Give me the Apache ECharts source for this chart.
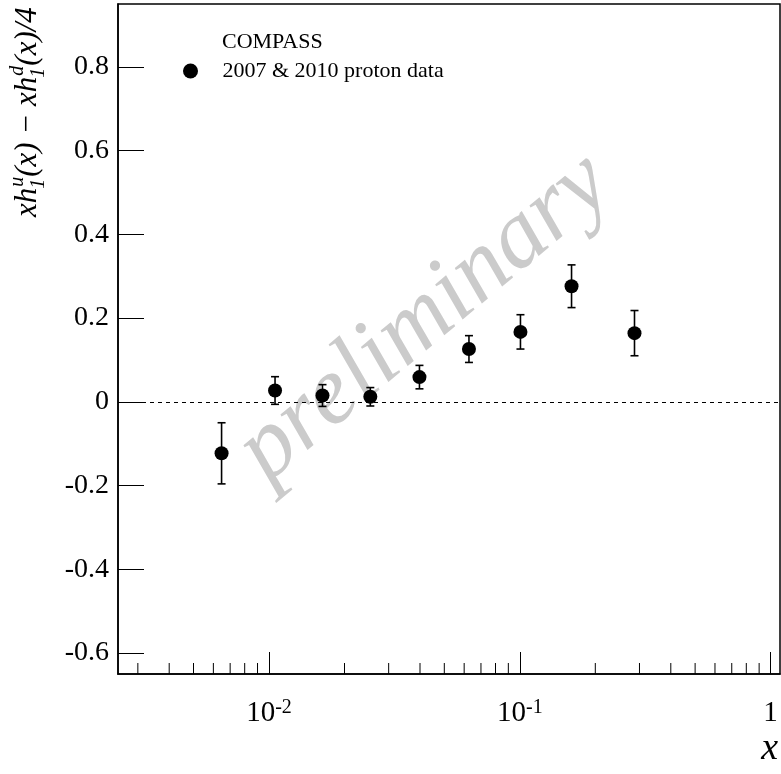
<!DOCTYPE html>
<html><head><meta charset="utf-8">
<script src="https://cdn.jsdelivr.net/npm/echarts@6/dist/echarts.min.js"></script>
<style>html,body{margin:0;padding:0;background:#fff}#c{width:781px;height:774px}</style>
</head><body><div id="c"></div>
<script>
// ---- data ----
const xValues = [0.00647, 0.01057, 0.01634, 0.02535, 0.0398, 0.0627, 0.1006, 0.1608, 0.2866];
const yValues = [-0.123, 0.027, 0.015, 0.012, 0.059, 0.126, 0.167, 0.276, 0.164];
const yErrors = [0.073, 0.033, 0.026, 0.022, 0.028, 0.032, 0.041, 0.051, 0.054];
const yTickValues = [-0.6, -0.4, -0.2, 0, 0.2, 0.4, 0.6, 0.8];
const xMinorTickValues = [0.003, 0.004, 0.005, 0.006, 0.007, 0.008, 0.009,
  0.02, 0.03, 0.04, 0.05, 0.06, 0.07, 0.08, 0.09,
  0.2, 0.3, 0.4, 0.5, 0.6, 0.7, 0.8, 0.9];
const seriesName = '2007 & 2010 proton data';
const experimentLabel = 'COMPASS';
const watermarkText = 'preliminary';
const xTitle = 'x';
const yTitleParts = [{t: 'xh'}, {sup: 'u', sub: '1'}, {t: '(x) \u2212 xh'}, {sup: 'd', sub: '1'}, {t: '(x)/4'}];
const xRange = [0.0025, 1.09];
const yRange = [-0.65, 0.95];

const FONT = '"Liberation Serif", "Times New Roman", serif';
const ctx2d = document.createElement('canvas').getContext('2d');
function textWidth(t, size, italic) {
  ctx2d.font = (italic ? 'italic ' : '') + size + 'px ' + FONT;
  return ctx2d.measureText(t).width;
}

// build rotated y-axis title with stacked sub/superscripts
function buildYTitle() {
  const S = 31, s = 20;
  const children = [];
  let cx = 0;
  const mk = (t, x, base, size) => children.push({
    type: 'text', x: x, y: base - 0.34 * size,
    style: {text: t, fontFamily: FONT, fontStyle: 'italic', fontSize: size, fill: '#000',
            align: 'left', verticalAlign: 'middle'}
  });
  yTitleParts.forEach(p => {
    if (p.t) { mk(p.t, cx, 0, S); cx += textWidth(p.t, S, true); }
    else {
      mk(p.sup, cx + 1, -0.42 * S, s);
      mk(p.sub, cx - 1, 0.24 * S, s);
      cx += Math.max(textWidth(p.sup, s, true), textWidth(p.sub, s, true)) + 1;
    }
  });
  return {type: 'group', x: 38, y: 217, rotation: Math.PI / 2, children: children};
}

const chart = echarts.init(document.getElementById('c'), null, {renderer: 'canvas'});

function isDecade(v) {
  const l = Math.log10(v);
  return Math.abs(l - Math.round(l)) < 1e-6;
}

const option = {
  backgroundColor: '#fff',
  animation: false,
  grid: {left: 118, right: 1, top: 4, bottom: 100, show: true, borderColor: '#000', borderWidth: 1.5},
  legend: {
    data: [seriesName], left: 178, top: 55, icon: 'circle',
    itemWidth: 54, itemHeight: 15,
    itemStyle: {opacity: 1, color: '#000'},
    textStyle: {fontFamily: FONT, fontSize: 22, color: '#000'}
  },
  xAxis: {
    type: 'log', logBase: 10, min: xRange[0], max: xRange[1],
    axisLine: {onZero: false, lineStyle: {color: '#000', width: 1.5}},
    axisTick: {inside: true, length: 22, lineStyle: {color: '#000', width: 1}},
    minorTick: {show: false},
    splitLine: {show: false},
    axisLabel: {
      margin: 24, showMinLabel: false, showMaxLabel: false,
      formatter: function (v) {
        if (!isDecade(v)) return '';
        const e = Math.round(Math.log10(v));
        if (e === 0) return '{b|1}';
        return '{b|10}{s|' + e + '}';
      },
      rich: {
        b: {fontFamily: FONT, fontSize: 29, color: '#000', lineHeight: 30},
        s: {fontFamily: FONT, fontSize: 20, color: '#000', verticalAlign: 'top', lineHeight: 20}
      }
    }
  },
  yAxis: {
    type: 'value', min: yRange[0], max: yRange[1],
    axisLine: {show: true, lineStyle: {color: '#000', width: 1.5}},
    axisTick: {inside: true, length: 26, customValues: yTickValues, lineStyle: {color: '#000', width: 1}},
    splitLine: {show: false},
    axisLabel: {
      customValues: yTickValues, margin: 9,
      fontFamily: FONT, fontSize: 28, color: '#000',
      formatter: v => (Math.abs(v) < 1e-9 ? '0' : v.toFixed(1))
    }
  },
  graphic: [
    {type: 'text', x: 425, y: 318, rotation: 40 * Math.PI / 180, z: 1, silent: true,
     style: {text: watermarkText, fontFamily: FONT, fontStyle: 'italic', fontSize: 97,
             fill: '#cbcbcb', align: 'center', verticalAlign: 'middle'}},
    {type: 'text', x: 222, y: 42, z: 5,
     style: {text: experimentLabel, fontFamily: FONT, fontSize: 22, fill: '#000',
             align: 'left', verticalAlign: 'middle'}},
    {type: 'text', x: 778, y: 768, z: 5,
     style: {text: xTitle, fontFamily: FONT, fontStyle: 'italic', fontSize: 38, fill: '#000',
             align: 'right', verticalAlign: 'bottom'}},
    buildYTitle()
  ],
  series: [
    {
      type: 'custom', name: 'minorTicks', silent: true, clip: false, z: 3,
      data: xMinorTickValues.map(v => [v, yRange[0]]),
      encode: {x: 0, y: 1},
      renderItem: function (params, api) {
        const p = api.coord([api.value(0), api.value(1)]);
        return {type: 'line', shape: {x1: p[0], y1: p[1], x2: p[0], y2: p[1] - 11},
                style: {stroke: '#000', lineWidth: 1}};
      }
    },
    {
      type: 'custom', name: 'errors', silent: true, z: 4,
      data: xValues.map((x, i) => [x, yValues[i] - yErrors[i], yValues[i] + yErrors[i]]),
      encode: {x: 0, y: [1, 2]},
      renderItem: function (params, api) {
        const lo = api.coord([api.value(0), api.value(1)]);
        const hi = api.coord([api.value(0), api.value(2)]);
        const w = 4;
        const st = {stroke: '#000', lineWidth: 1.6};
        return {type: 'group', children: [
          {type: 'line', shape: {x1: lo[0], y1: lo[1], x2: hi[0], y2: hi[1]}, style: st},
          {type: 'line', shape: {x1: lo[0] - w, y1: lo[1], x2: lo[0] + w, y2: lo[1]}, style: st},
          {type: 'line', shape: {x1: hi[0] - w, y1: hi[1], x2: hi[0] + w, y2: hi[1]}, style: st}
        ]};
      }
    },
    {
      type: 'scatter', name: seriesName, z: 5,
      symbol: 'circle', symbolSize: 14,
      itemStyle: {color: '#000', opacity: 1},
      data: xValues.map((x, i) => [x, yValues[i]]),
      markLine: {
        silent: true, symbol: ['none', 'none'], label: {show: false},
        lineStyle: {color: '#000', width: 1, type: [4, 4]},
        data: [{yAxis: 0}]
      }
    }
  ]
};
chart.setOption(option);
</script>
</body></html>
